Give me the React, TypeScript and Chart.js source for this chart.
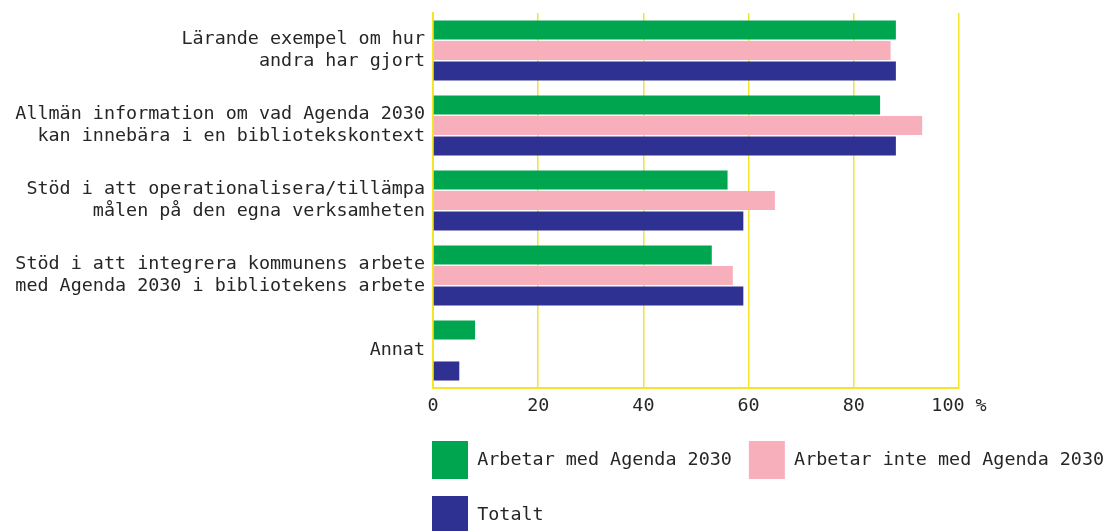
import React, { useEffect, useRef } from "react";
import { Chart, registerables } from "chart.js";

Chart.register(...registerables);

const categories: (string | string[])[] = [
  ["Lärande exempel om hur", "andra har gjort"],
  ["Allmän information om vad Agenda 2030", "kan innebära i en bibliotekskontext"],
  ["Stöd i att operationalisera/tillämpa", "målen på den egna verksamheten"],
  ["Stöd i att integrera kommunens arbete", "med Agenda 2030 i bibliotekens arbete"],
  "Annat",
];

const seriesNames = ["Arbetar med Agenda 2030", "Arbetar inte med Agenda 2030", "Totalt"];
const arbetarMed = [88, 85, 56, 53, 8];
const arbetarInte = [87, 93, 65, 57, 0];
const totalt = [88, 88, 59, 59, 5];
const xTickMax = 100;
const xTickStep = 20;
const xUnit = " %";

const GREEN = "#00a54f";
const PINK = "#f7afbb";
const BLUE = "#2e3192";
const YELLOW = "#f3e62a";
const TEXT = "#262626";
const FONT = { family: "'DejaVu Sans Mono', monospace", size: 18.4 };
const LEGEND_PAD = 17;

const legendPlacement = {
  id: "legendPlacement",
  beforeLayout(chart: any) {
    const lg = chart.legend;
    if (lg && !lg.__capped) {
      const orig = lg.update.bind(lg);
      lg.update = (w: number, h: number, m: any) => orig(Math.min(w, 790), h, m);
      lg.__capped = true;
    }
  },
  afterLayout(chart: any) {
    const lg = chart.legend;
    const ca = chart.chartArea;
    if (!lg || !ca) return;
    lg.left = ca.left - 1 - LEGEND_PAD;
    lg.right = 1140;
    lg.width = lg.right - lg.left;
    lg.top = ca.bottom + 36;
    lg.height = 160;
    lg.bottom = lg.top + lg.height;
  },
};

export default function App() {
  const ref = useRef<HTMLCanvasElement | null>(null);

  useEffect(() => {
    if (!ref.current) return;
    const chart = new Chart(ref.current, {
      type: "bar",
      data: {
        labels: categories,
        datasets: [
          { label: seriesNames[0], data: arbetarMed, backgroundColor: GREEN, borderWidth: 0 },
          { label: seriesNames[1], data: arbetarInte, backgroundColor: PINK, borderWidth: 0 },
          { label: seriesNames[2], data: totalt, backgroundColor: BLUE, borderWidth: 0 },
        ],
      },
      plugins: [legendPlacement],
      options: {
        indexAxis: "y",
        responsive: false,
        animation: false,
        datasets: {
          bar: { categoryPercentage: 0.82, barPercentage: 0.93 },
        },
        layout: { padding: { top: 13, right: 149, left: 0, bottom: 0 } },
        plugins: {
          tooltip: { enabled: false },
          legend: {
            position: "bottom",
            align: "start",
            labels: {
              boxWidth: 36,
              boxHeight: 38,
              padding: LEGEND_PAD,
              color: TEXT,
              font: FONT,
            },
          },
        },
        scales: {
          x: {
            min: 0,
            max: xTickMax,
            ticks: {
              stepSize: xTickStep,
              color: TEXT,
              font: FONT,
              padding: 7,
              callback: (v: any) => (Number(v) === xTickMax ? `${v}${xUnit}` : String(v)),
            },
            grid: { color: YELLOW, lineWidth: 1.5, drawTicks: false },
            border: { color: YELLOW, width: 2 },
            afterFit: (s: any) => {
              s.height = 23;
              s.paddingLeft = 0;
            },
          },
          y: {
            ticks: { color: TEXT, font: FONT, padding: 8 },
            grid: { display: false, drawTicks: false },
            border: { display: true, color: YELLOW, width: 2 },
            afterFit: (s: any) => {
              s.width = 433;
              s.paddingTop = 0;
              s.paddingBottom = 0;
            },
          },
        },
      },
    } as any);
    return () => chart.destroy();
  }, []);

  return (
    <div style={{ position: "absolute", left: 0, top: 0, width: 1108, height: 531, background: "#fff" }}>
      <canvas ref={ref} width={1108} height={531} style={{ display: "block" }} />
    </div>
  );
}
